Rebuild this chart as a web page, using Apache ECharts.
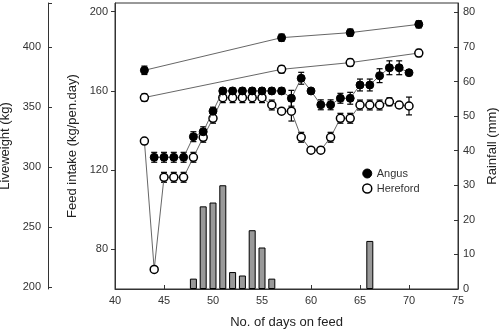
<!DOCTYPE html>
<html>
<head>
<meta charset="utf-8">
<script src="https://cdn.jsdelivr.net/npm/echarts@6/dist/echarts.min.js"></script>
<style>
  html, body { margin: 0; padding: 0; background: #fff; }
  #chart { width: 500px; height: 330px; }
</style>
</head>
<body>
<div id="chart"></div>
<script>
// feed intake (kg/pen.day)
var angusFeedDays = [44,45,46,47,48,49,50,51,52,53,54,55,56,57,58,59,60,61,62,63,64,65,66,67,68,69,70];
var angusFeed = [126.5,126.5,126.5,126.5,136.9,139.4,149.8,160,160,160,160,160,160,160,156.3,166.4,160,153,153,156.3,156.3,163,163,167.7,171.7,171.7,169.2];
var angusFeedErr = [2.5,2.5,2.5,2.5,2.5,2.5,2,1.5,1.5,1.5,1.5,1.5,1.5,1.5,4,3,0,2.5,2.5,2.5,3,3,3,3.5,3.5,3.5,0];

var herefordFeedDays = [43,44,45,46,47,48,49,50,51,52,53,54,55,56,57,58,59,60,61,62,63,64,65,66,67,68,69,70];
var herefordFeed = [134.7,69.9,116.4,116.4,116.4,126.5,136.6,146.2,156.6,156.6,156.6,156.6,156.6,152.9,149.8,149.8,136.6,130.1,130.1,136.6,146.2,146.2,152.9,152.9,152.9,154.5,152.9,152.4];
var herefordFeedErr = [0,0,2.5,2.5,2.5,2.5,2.5,2.5,2.5,2.5,2.5,2.5,2.5,2.5,0,5,2.5,0,0,2.5,2.5,2.5,2.5,2.5,2.5,2,1.5,4.5];

// liveweight (kg)
var lwDays = [43,57,64,71];
var angusLw = [380.6,407.8,412,418.9];
var angusLwErr = [3.5,3,3,3];
var herefordLw = [357.9,381.4,387,395];
var herefordLwErr = [3,3,3,3];

// rainfall (mm)
var rainDays = [48,49,50,51,52,53,54,55,56,66];
var rainMm = [3,23.9,25,30,4.9,3.9,17,12,3,13.9];

var feedTicks = [80,120,160,200];
var lwTicks = [200,250,300,350,400];
var rainTicks = [0,10,20,30,40,50,60,70,80];

function pairs(xs, ys) {
  return xs.map(function (x, i) { return [x, ys[i]]; });
}
function triples(xs, ys, es) {
  return xs.map(function (x, i) { return [x, ys[i], es[i]]; });
}

function errorBars(params, api) {
  var x = api.value(0), y = api.value(1), e = api.value(2);
  if (!e) return null;
  var lo = api.coord([x, y - e]);
  var hi = api.coord([x, y + e]);
  var w = 3;
  var st = { stroke: '#000', lineWidth: 1.2 };
  return {
    type: 'group',
    children: [
      { type: 'line', shape: { x1: lo[0], y1: lo[1], x2: hi[0], y2: hi[1] }, style: st },
      { type: 'line', shape: { x1: lo[0] - w, y1: lo[1], x2: lo[0] + w, y2: lo[1] }, style: st },
      { type: 'line', shape: { x1: hi[0] - w, y1: hi[1], x2: hi[0] + w, y2: hi[1] }, style: st }
    ]
  };
}

var font = 'Liberation Sans, Arial, sans-serif';
var filled = { color: '#000', borderColor: '#000', borderWidth: 1 };
var open = { color: '#fff', borderColor: '#000', borderWidth: 1.5 };
var thinLine = { color: '#555', width: 0.9 };

var chart = echarts.init(document.getElementById('chart'));
chart.setOption({
  animation: false,
  textStyle: { fontFamily: font },
  grid: {
    left: 115, right: 42, top: 3, bottom: 41,
    outerBoundsMode: 'none', containLabel: false,
    show: true, borderColor: '#333', borderWidth: 1
  },
  legend: {
    orient: 'vertical',
    left: 362, top: 168, padding: 0,
    itemWidth: 9, itemHeight: 9, itemGap: 4,
    textStyle: { fontSize: 11, color: '#333', fontFamily: font },
    data: [
      { name: 'Angus', icon: 'circle', itemStyle: filled },
      { name: 'Hereford', icon: 'circle', itemStyle: open }
    ]
  },
  xAxis: {
    type: 'value', min: 40, max: 75, interval: 5,
    name: 'No. of days on feed', nameLocation: 'middle', nameGap: 27,
    nameTextStyle: { fontSize: 13, color: '#222', fontFamily: font },
    axisLine: { lineStyle: { color: '#333' } },
    axisTick: { inside: true, length: 4, lineStyle: { color: '#333' } },
    axisLabel: { fontSize: 11, color: '#333', margin: 6 },
    splitLine: { show: false }
  },
  yAxis: [
    {
      type: 'value', position: 'left', min: 60, max: 204.4,
      name: 'Feed intake (kg/pen.day)', nameLocation: 'middle', nameGap: 25, nameRotate: 90,
      nameTextStyle: { fontSize: 13, color: '#222', fontFamily: font },
      axisLine: { show: true, lineStyle: { color: '#333' } },
      axisTick: { show: true, length: 4, customValues: feedTicks, lineStyle: { color: '#333' } },
      axisLabel: { fontSize: 11, color: '#333', margin: 7, customValues: feedTicks },
      splitLine: { show: false }
    },
    {
      type: 'value', position: 'left', offset: 67, min: 198.3, max: 436.7,
      name: 'Liveweight (kg)', nameLocation: 'middle', nameGap: 31, nameRotate: 90,
      nameTextStyle: { fontSize: 13, color: '#222', fontFamily: font },
      axisLine: { show: true, lineStyle: { color: '#333' } },
      axisTick: { show: true, inside: true, length: 4, customValues: lwTicks.concat([436.7]), lineStyle: { color: '#333' } },
      axisLabel: { fontSize: 11, color: '#333', margin: 7, customValues: lwTicks },
      splitLine: { show: false }
    },
    {
      type: 'value', position: 'right', min: 0, max: 82.7,
      name: 'Rainfall (mm)', nameLocation: 'middle', nameGap: 26, nameRotate: 90,
      nameTextStyle: { fontSize: 13, color: '#222', fontFamily: font },
      axisLine: { show: true, lineStyle: { color: '#333' } },
      axisTick: { show: true, inside: true, length: 4, customValues: rainTicks, lineStyle: { color: '#333' } },
      axisLabel: { fontSize: 11, color: '#333', margin: 5, customValues: rainTicks },
      splitLine: { show: false }
    }
  ],
  series: [
    {
      name: 'Rainfall', type: 'bar', yAxisIndex: 2, barWidth: 7,
      itemStyle: { color: '#999', borderColor: '#000', borderWidth: 1 },
      data: pairs(rainDays, rainMm), z: 1
    },
    { type: 'custom', yAxisIndex: 0, renderItem: errorBars, data: triples(angusFeedDays, angusFeed, angusFeedErr), z: 2 },
    { type: 'custom', yAxisIndex: 0, renderItem: errorBars, data: triples(herefordFeedDays, herefordFeed, herefordFeedErr), z: 2 },
    { type: 'custom', yAxisIndex: 1, renderItem: errorBars, data: triples(lwDays, angusLw, angusLwErr), z: 2 },
    { type: 'custom', yAxisIndex: 1, renderItem: errorBars, data: triples(lwDays, herefordLw, herefordLwErr), z: 2 },
    {
      name: 'Hereford', type: 'line', yAxisIndex: 0, symbol: 'circle', symbolSize: 8,
      itemStyle: open, lineStyle: thinLine, data: pairs(herefordFeedDays, herefordFeed), z: 3
    },
    {
      name: 'Angus', type: 'line', yAxisIndex: 0, symbol: 'circle', symbolSize: 8,
      itemStyle: filled, lineStyle: thinLine, data: pairs(angusFeedDays, angusFeed), z: 4
    },
    {
      name: 'Angus', type: 'line', yAxisIndex: 1, symbol: 'circle', symbolSize: 8,
      itemStyle: filled, lineStyle: thinLine, data: pairs(lwDays, angusLw), z: 4
    },
    {
      name: 'Hereford', type: 'line', yAxisIndex: 1, symbol: 'circle', symbolSize: 8,
      itemStyle: open, lineStyle: thinLine, data: pairs(lwDays, herefordLw), z: 3
    }
  ]
});
</script>
</body>
</html>
